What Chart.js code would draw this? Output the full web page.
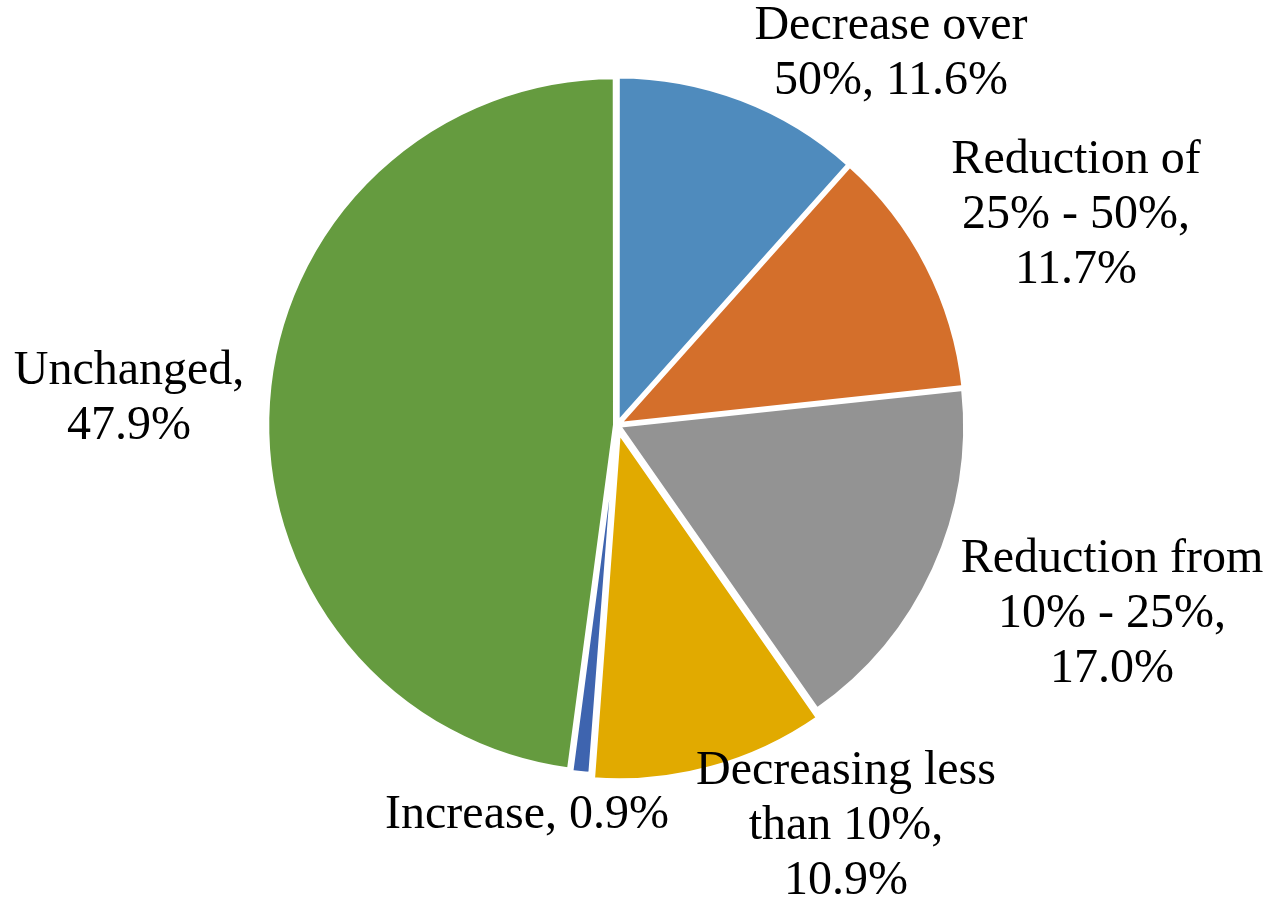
<!DOCTYPE html>
<html>
<head>
<meta charset="utf-8">
<script src="https://cdn.jsdelivr.net/npm/chart.js@4"></script>
<style>
  html, body { margin: 0; padding: 0; background: #fff; }
  #wrap { width: 1266px; height: 899px; }
</style>
</head>
<body>
<div id="wrap"><canvas id="pie-chart"></canvas></div>
<script>
const categories = [
    'Decrease over 50%',
    'Reduction of 25% - 50%',
    'Reduction from 10% - 25%',
    'Decreasing less than 10%',
    'Increase',
    'Unchanged',
];
const shares = [11.6, 11.7, 17.0, 10.9, 0.9, 47.9];
const labelLines = [
    ['Decrease over', '50%, 11.6%'],
    ['Reduction of', '25% - 50%,', '11.7%'],
    ['Reduction from', '10% - 25%,', '17.0%'],
    ['Decreasing less', 'than 10%,', '10.9%'],
    ['Increase, 0.9%'],
    ['Unchanged,', '47.9%'],
];

const colors = ['#4f8bbd', '#d46f2b', '#939393', '#e1aa00', '#3e64af', '#659b3f'];
// label block centre, relative to pie centre
const labelOffsets = [[274, -371], [459, -210], [495, 189], [229, 401], [-90, 390], [-488, -26]];

const outsideLabels = {
    id: 'outsideLabels',
    afterDraw(chart) {
        const ctx = chart.ctx;
        const arc = chart.getDatasetMeta(0).data[0];
        const cx = arc.x, cy = arc.y;
        ctx.save();
        ctx.font = '48px "Liberation Serif", "Times New Roman", serif';
        ctx.fillStyle = '#000';
        ctx.textAlign = 'center';
        ctx.textBaseline = 'middle';
        const lh = 55;
        labelLines.forEach((lines, i) => {
            const x = cx + labelOffsets[i][0];
            const y0 = cy + labelOffsets[i][1] - (lines.length - 1) * lh / 2;
            lines.forEach((t, j) => ctx.fillText(t, x, y0 + j * lh));
        });
        ctx.restore();
    },
};

const ctx = document.getElementById('pie-chart').getContext('2d');
new Chart(ctx, {
    type: 'pie',
    data: {
        labels: categories,
        datasets: [{
            data: shares,
            backgroundColor: colors,
            borderColor: '#ffffff',
            borderWidth: 4,
            offset: [8, 8, 8, 28, 8, 8],
            hoverOffset: 0,
        }],
    },
    options: {
        responsive: true,
        maintainAspectRatio: false,
        animation: false,
        layout: { padding: { left: 255, right: 287, top: 63, bottom: 112 } },
        plugins: {
            legend: { display: false },
            tooltip: { enabled: false },
        },
    },
    plugins: [outsideLabels],
});
</script>
</body>
</html>
